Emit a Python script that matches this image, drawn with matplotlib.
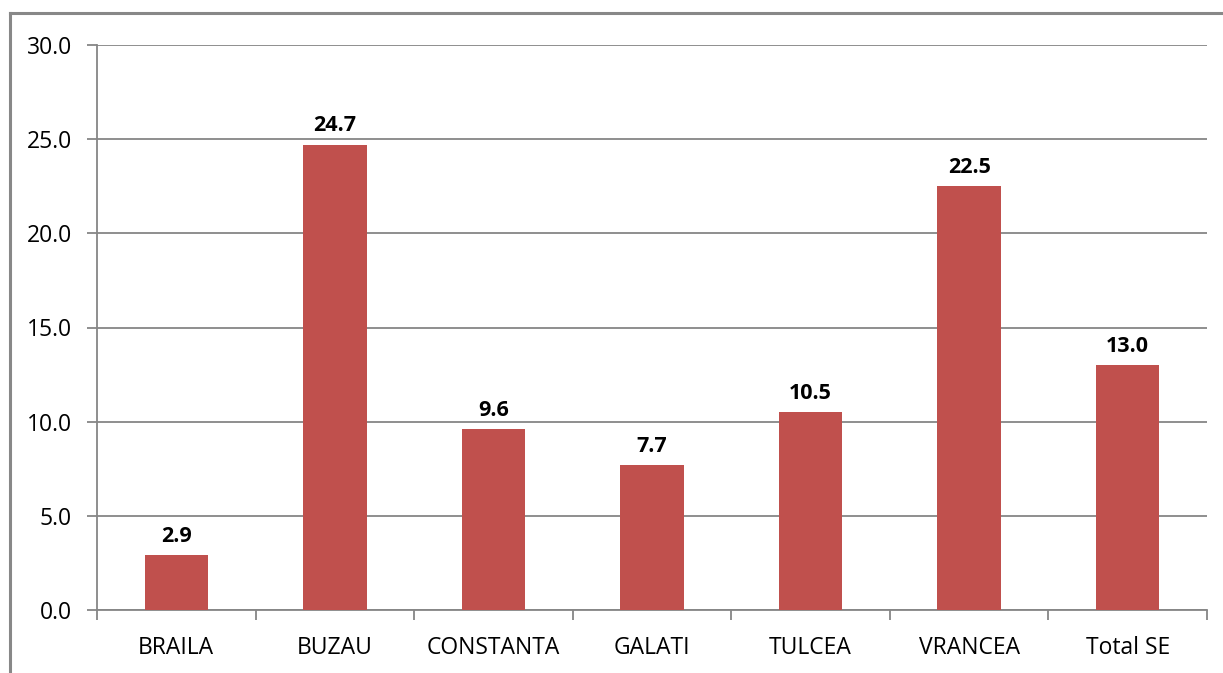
import matplotlib
matplotlib.use("Agg")
import matplotlib.pyplot as plt
from matplotlib.lines import Line2D

categories = ["BRAILA", "BUZAU", "CONSTANTA", "GALATI", "TULCEA", "VRANCEA", "Total SE"]
values = [2.9, 24.7, 9.6, 7.7, 10.5, 22.5, 13.0]
yticks = [0, 5, 10, 15, 20, 25, 30]

W, H = 1223, 673
fig = plt.figure(figsize=(W / 100, H / 100), dpi=100)
plt.rcParams['font.family'] = ['Open Sans', 'DejaVu Sans']

ax = fig.add_axes([97 / W, 1 - 610 / H, (1207 - 97) / W, (610 - 45) / H])

x = list(range(len(categories)))
ax.bar(x, values, width=0.4, color="#C0504D", zorder=3)
for xi, v in zip(x, values):
    ax.annotate(f"{v:.1f}", xy=(xi, v), xytext=(0, 6), textcoords="offset points",
                ha="center", va="bottom", fontsize=15.5, fontweight="bold", color="black",
                zorder=4)

ax.set_xlim(-0.5, len(categories) - 0.5)
ax.set_ylim(0, 30)
ax.set_yticks(yticks)
ax.set_yticklabels([f"{t:.1f}" for t in yticks], fontsize=16.5)
ax.yaxis.grid(True, color="#868686", linewidth=1.3, zorder=0)

ax.set_xticks(x)
ax.set_xticklabels(categories, fontsize=16.5)
ax.tick_params(axis="x", length=0, pad=19)
ax.set_xticks([i - 0.5 for i in range(len(categories) + 1)], minor=True)
ax.tick_params(axis="x", which="minor", length=7, color="#868686", width=1.3)
ax.tick_params(axis="y", length=7, color="#868686", width=1.3, pad=11)

for side in ["top", "right"]:
    ax.spines[side].set_visible(False)
for side in ["left", "bottom"]:
    ax.spines[side].set_color("#868686")
    ax.spines[side].set_linewidth(1.3)

# outer frame along the left and top edges
fig.add_artist(Line2D([10 / W, 10 / W], [0, 1 - 13 / H], color="#888888", linewidth=2.2))
fig.add_artist(Line2D([10 / W, 1], [1 - 13 / H, 1 - 13 / H], color="#888888", linewidth=2.2))

fig.savefig("out.png", dpi=100)
